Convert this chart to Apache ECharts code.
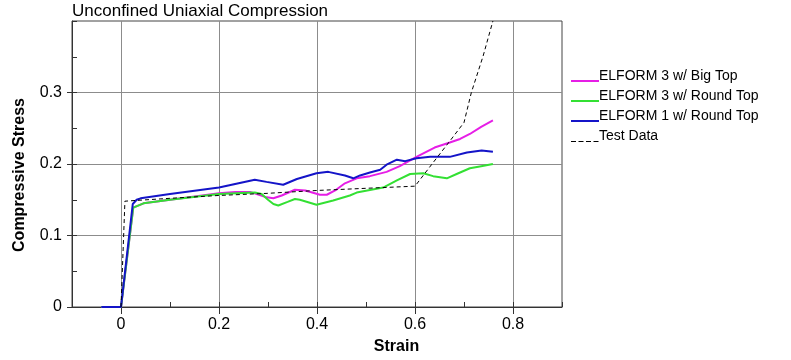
<!DOCTYPE html>
<html><head><meta charset="utf-8">
<script src="https://cdn.jsdelivr.net/npm/echarts@6/dist/echarts.min.js"></script>
<style>html,body{margin:0;padding:0;background:#fff}#c{width:791px;height:360px}</style>
</head><body><div id="c"></div>
<script>
const chartTitle = 'Unconfined Uniaxial Compression';
const xName = 'Strain';
const yName = 'Compressive Stress';
const seriesNames = ['ELFORM 3 w/ Big Top', 'ELFORM 3 w/ Round Top', 'ELFORM 1 w/ Round Top', 'Test Data'];
const xTickValues = [0, 0.2, 0.4, 0.6, 0.8];
const yTickValues = [0, 0.1, 0.2, 0.3];

const elform3BigTop = [[-0.04,0],[0,0],[0.025,0.139],[0.046,0.145],[0.1,0.150],[0.2,0.159],[0.233,0.161],[0.263,0.161],[0.294,0.154],[0.311,0.152],[0.328,0.156],[0.355,0.164],[0.376,0.163],[0.406,0.157],[0.420,0.157],[0.437,0.163],[0.457,0.173],[0.481,0.180],[0.508,0.183],[0.542,0.189],[0.569,0.197],[0.603,0.210],[0.640,0.223],[0.671,0.230],[0.692,0.235],[0.712,0.242],[0.735,0.252],[0.759,0.261]];
const elform3RoundTop = [[-0.04,0],[0,0],[0.025,0.139],[0.046,0.145],[0.1,0.150],[0.2,0.158],[0.273,0.160],[0.287,0.158],[0.300,0.150],[0.311,0.144],[0.321,0.142],[0.340,0.147],[0.355,0.151],[0.365,0.150],[0.399,0.143],[0.433,0.149],[0.467,0.156],[0.481,0.160],[0.535,0.167],[0.563,0.177],[0.590,0.186],[0.617,0.187],[0.637,0.183],[0.665,0.180],[0.685,0.186],[0.712,0.194],[0.735,0.197],[0.759,0.200]];
const elform1RoundTop = [[-0.04,0],[0,0],[0.024,0.144],[0.032,0.150],[0.04,0.152],[0.1,0.158],[0.2,0.167],[0.273,0.178],[0.297,0.175],[0.331,0.171],[0.359,0.179],[0.399,0.187],[0.423,0.189],[0.457,0.184],[0.474,0.180],[0.488,0.184],[0.508,0.188],[0.529,0.192],[0.542,0.199],[0.563,0.206],[0.580,0.204],[0.603,0.208],[0.631,0.210],[0.671,0.210],[0.706,0.216],[0.736,0.219],[0.759,0.217]];
const testData = [[0,0],[0.008,0.148],[0.03,0.149],[0.1,0.152],[0.2,0.156],[0.3,0.159],[0.4,0.163],[0.5,0.166],[0.6,0.169],[0.637,0.202],[0.671,0.232],[0.700,0.258],[0.715,0.300],[0.739,0.351],[0.759,0.400]];

const colors = ['#e61ee6', '#33e033', '#1414c8', '#000000'];
const bbox = 'M0,0h0.01v0.01h-0.01z M27.99,13.99h0.01v0.01h-0.01z ';
const solidIcon = 'path://' + bbox + 'M0,11h28v2h-28z';
const dashIcon = 'path://' + bbox + 'M0,12h5v1h-5z M7.5,12h5v1h-5z M15,12h5v1h-5z M22.5,12h5v1h-5z';

const chart = echarts.init(document.getElementById('c'));
const lineSeries = (name, data, color, width, type) => ({
  name, type: 'line', data, showSymbol: false, symbol: 'none',
  xAxisIndex: 0, yAxisIndex: 0,
  lineStyle: { color, width, type },
  itemStyle: { color },
  animation: false
});
const fontFam = 'Liberation Sans, Arial';
chart.setOption({
  animation: false,
  backgroundColor: '#fff',
  title: {
    text: chartTitle, left: 72, top: 3, padding: 0,
    textStyle: { fontFamily: fontFam, fontSize: 17, fontWeight: 'normal', color: '#000' }
  },
  grid: { left: 72, right: 229, top: 21, bottom: 52, show: true, borderColor: '#444', borderWidth: 1, containLabel: false },
  legend: {
    orient: 'vertical', left: 571, top: 69, itemGap: 6, itemWidth: 28, itemHeight: 14, padding: 0,
    itemStyle: { borderWidth: 0 },
    textStyle: { fontFamily: fontFam, fontSize: 14, color: '#000', padding: [0,0,0,-5] },
    data: [
      { name: seriesNames[0], icon: solidIcon },
      { name: seriesNames[1], icon: solidIcon },
      { name: seriesNames[2], icon: solidIcon },
      { name: seriesNames[3], icon: dashIcon }
    ]
  },
  xAxis: [{
    type: 'value', min: -0.1, max: 0.9, position: 'bottom',
    name: xName, nameLocation: 'middle', nameGap: 32,
    nameTextStyle: { fontFamily: fontFam, fontSize: 16, fontWeight: 'bold', color: '#000', padding: [0,0,0,159] },
    axisLine: { show: true, onZero: false, lineStyle: { color: '#333', width: 1 } },
    axisTick: { show: true, inside: false, length: 7, customValues: xTickValues, lineStyle: { color: '#333' } },
    axisLabel: { customValues: xTickValues, margin: 10, fontFamily: fontFam, fontSize: 16, color: '#000' },
    splitLine: { show: true, lineStyle: { color: '#8c8c8c', width: 1 } }
  }, {
    type: 'value', min: -0.1, max: 0.9, interval: 0.1, position: 'bottom',
    axisLine: { show: false, onZero: false }, axisLabel: { show: false }, splitLine: { show: false },
    axisTick: { show: true, inside: true, length: 5, lineStyle: { color: '#333' } }
  }],
  yAxis: [{
    type: 'value', min: 0, max: 0.4, interval: 0.1, position: 'left',
    name: yName, nameLocation: 'middle', nameGap: 44,
    nameTextStyle: { fontFamily: fontFam, fontSize: 16, fontWeight: 'bold', color: '#000', padding: [0,22,0,0] },
    axisLine: { show: true, onZero: false, lineStyle: { color: '#333', width: 1 } },
    axisTick: { show: true, inside: false, length: 5, customValues: yTickValues, lineStyle: { color: '#333' } },
    axisLabel: { customValues: yTickValues, margin: 10, fontFamily: fontFam, fontSize: 16, color: '#000' },
    splitLine: { show: true, lineStyle: { color: '#8c8c8c', width: 1 } }
  }, {
    type: 'value', min: 0, max: 0.4, interval: 0.05, position: 'left',
    axisLine: { show: false, onZero: false }, axisLabel: { show: false }, splitLine: { show: false },
    axisTick: { show: true, inside: true, length: 5, lineStyle: { color: '#333' } }
  }],
  series: [
    lineSeries(seriesNames[0], elform3BigTop, colors[0], 2, 'solid'),
    lineSeries(seriesNames[1], elform3RoundTop, colors[1], 2, 'solid'),
    lineSeries(seriesNames[2], elform1RoundTop, colors[2], 2, 'solid'),
    lineSeries(seriesNames[3], testData, colors[3], 1, [4, 3])
  ]
});
</script></body></html>
